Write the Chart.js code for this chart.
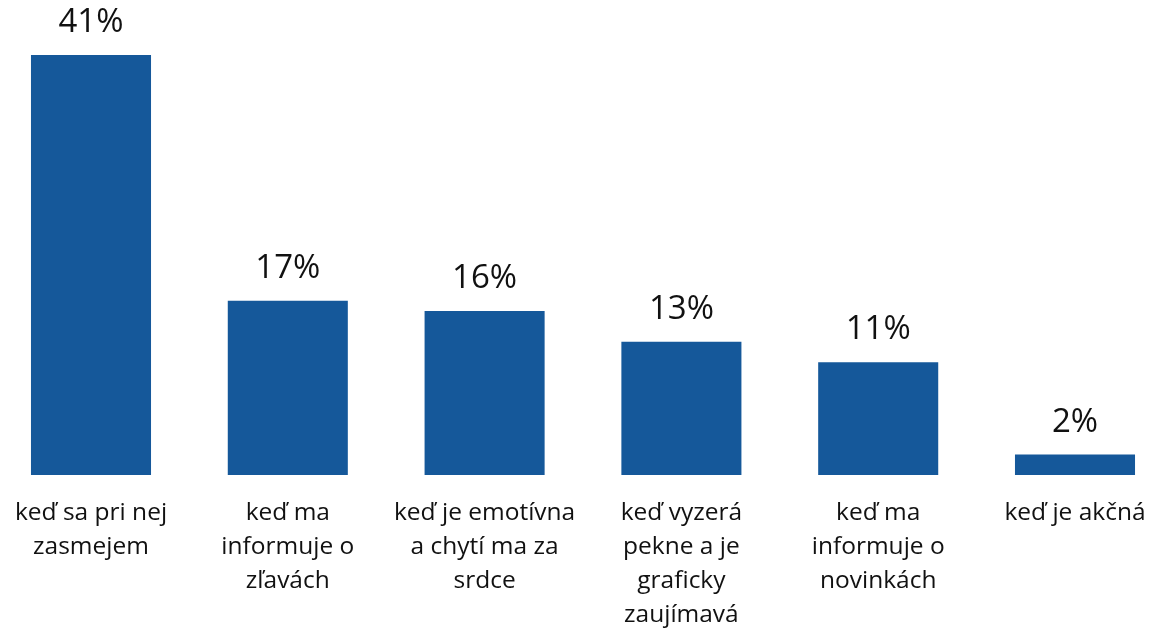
<!DOCTYPE html>
<html>
<head>
<meta charset="utf-8">
<script src="https://cdn.jsdelivr.net/npm/chart.js@4/dist/chart.umd.min.js"></script>
<style>
html,body{margin:0;padding:0;background:#fff;}
#wrap{width:1151px;height:631px;position:relative;}
</style>
</head>
<body>
<div id="wrap"><canvas id="c" width="1151" height="631"></canvas></div>
<script>
const categories = [
  ["keď sa pri nej", "zasmejem"],
  ["keď ma", "informuje o", "zľavách"],
  ["keď je emotívna", "a chytí ma za", "srdce"],
  ["keď vyzerá", "pekne a je", "graficky", "zaujímavá"],
  ["keď ma", "informuje o", "novinkách"],
  ["keď je akčná"]
];
const values = [41, 17, 16, 13, 11, 2];
const valueLabels = ["41%", "17%", "16%", "13%", "11%", "2%"];

const FONT = "'Open Sans', sans-serif";

const valuePlugin = {
  id: 'valueLabels',
  afterDatasetsDraw(chart) {
    const ctx = chart.ctx;
    const meta = chart.getDatasetMeta(0);
    ctx.save();
    ctx.font = "33px " + FONT;
    ctx.fillStyle = "#111";
    ctx.textAlign = "center";
    ctx.textBaseline = "alphabetic";
    meta.data.forEach((bar, i) => {
      ctx.fillText(valueLabels[i], bar.x, bar.y - 23);
    });
    ctx.restore();
  }
};

new Chart(document.getElementById('c'), {
  type: 'bar',
  data: {
    labels: categories,
    datasets: [{
      data: values,
      backgroundColor: '#15589A',
      borderWidth: 0,
      categoryPercentage: 1,
      barPercentage: 0.61,
      clip: false
    }]
  },
  options: {
    responsive: false,
    animation: false,
    devicePixelRatio: 1,
    layout: { padding: { left: 91, right: 76, top: 14, bottom: 0 } },
    plugins: { legend: { display: false }, tooltip: { enabled: false } },
    scales: {
      x: {
        offset: false,
        grid: { display: false, drawTicks: false },
        border: { display: false },
        ticks: {
          autoSkip: false,
          maxRotation: 0,
          minRotation: 0,
          padding: 21,
          color: '#111',
          font: { family: FONT, size: 24.5, lineHeight: 1.39 }
        },
        afterFit(scale) {
          scale.height = 156;
          scale.paddingLeft = 0;
          scale.paddingRight = 0;
        }
      },
      y: {
        display: false,
        min: 0,
        max: 45
      }
    }
  },
  plugins: [valuePlugin]
});
</script>
</body>
</html>
